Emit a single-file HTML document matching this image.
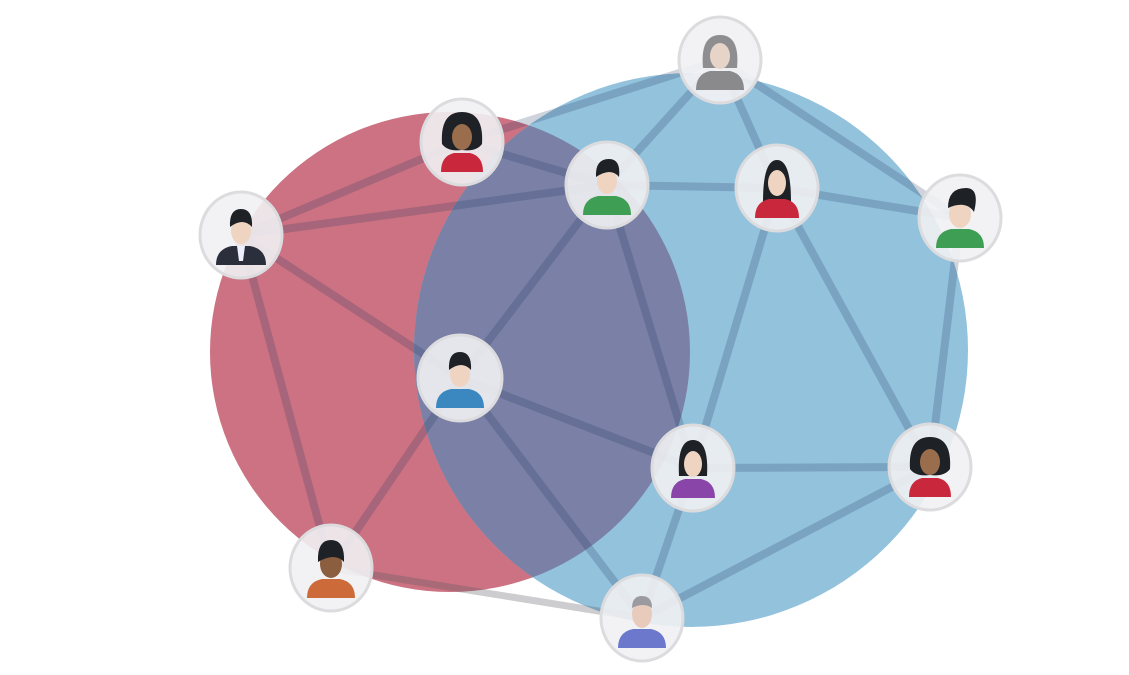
<!DOCTYPE html>
<html><head><meta charset="utf-8"><style>html,body{margin:0;padding:0;background:#fff}svg{display:block}</style></head>
<body>
<svg width="1129" height="675" viewBox="0 0 1129 675" xmlns="http://www.w3.org/2000/svg">
<defs>
<clipPath id="rc"><ellipse cx="450" cy="352" rx="240" ry="240"/></clipPath>
</defs>
<ellipse cx="450" cy="352" rx="240" ry="240" fill="#cc7282"/>
<ellipse cx="691" cy="350" rx="277" ry="277" fill="#93c2dd"/>
<ellipse cx="691" cy="350" rx="277" ry="277" fill="#7a80a6" clip-path="url(#rc)"/>
<g stroke="rgba(30,55,95,0.22)" stroke-width="8" stroke-linecap="round">
<line x1="720" y1="60" x2="462" y2="142"/>
<line x1="720" y1="60" x2="607" y2="185"/>
<line x1="720" y1="60" x2="777" y2="188"/>
<line x1="720" y1="60" x2="960" y2="218"/>
<line x1="462" y1="142" x2="607" y2="185"/>
<line x1="241" y1="235" x2="462" y2="142"/>
<line x1="241" y1="235" x2="607" y2="185"/>
<line x1="241" y1="235" x2="460" y2="378"/>
<line x1="241" y1="235" x2="331" y2="568"/>
<line x1="607" y1="185" x2="777" y2="188"/>
<line x1="777" y1="188" x2="960" y2="218"/>
<line x1="607" y1="185" x2="460" y2="378"/>
<line x1="607" y1="185" x2="693" y2="468"/>
<line x1="777" y1="188" x2="693" y2="468"/>
<line x1="777" y1="188" x2="930" y2="467"/>
<line x1="960" y1="218" x2="930" y2="467"/>
<line x1="460" y1="378" x2="693" y2="468"/>
<line x1="460" y1="378" x2="642" y2="618"/>
<line x1="460" y1="378" x2="331" y2="568"/>
<line x1="693" y1="468" x2="930" y2="467"/>
<line x1="693" y1="468" x2="642" y2="618"/>
<line x1="930" y1="467" x2="642" y2="618"/>
</g>
<line x1="331" y1="568" x2="642" y2="618" stroke="rgba(90,90,100,0.3)" stroke-width="7"/>
<g id="nodes">
<!-- generic node: ellipse + avatar -->
<g transform="translate(720,60)"><ellipse rx="41" ry="43" fill="#f1f1f3" fill-opacity="0.92" stroke="#dcdcdf" stroke-width="3"/><path d="M-24 30 Q-24 14 -10 11 L10 11 Q24 14 24 30 Z" fill="#8a8a8c"/><path d="M-17 8 Q-20 -25 0 -25 Q20 -25 17 8 Z" fill="#8e8e90"/><ellipse cx="0" cy="-4" rx="10" ry="13" fill="#e6d4c8"/></g>
<g transform="translate(462,142)"><ellipse rx="41" ry="43" fill="#f1f1f3" fill-opacity="0.9" stroke="#dcdcdf" stroke-width="3"/><path d="M-21 30 Q-21 14 -8 11 L8 11 Q21 14 21 30 Z" fill="#c9283c"/><path d="M-20 2 Q-22 -30 0 -30 Q22 -30 20 2 Q14 10 0 8 Q-14 10 -20 2Z" fill="#1e2126"/><ellipse cx="0" cy="-5" rx="10" ry="13" fill="#9a6e4c"/></g>
<g transform="translate(607,185)"><ellipse rx="41" ry="43" fill="#f1f1f3" fill-opacity="0.9" stroke="#dcdcdf" stroke-width="3"/><path d="M-24 30 Q-24 14 -9 11 L9 11 Q24 14 24 30 Z" fill="#3e9e53"/><ellipse cx="0" cy="-4" rx="10" ry="13" fill="#efd4c2"/><path d="M-11 -8 Q-12 -26 2 -26 Q14 -26 12 -8 Q4 -18 -11 -8Z" fill="#1e2126"/></g>
<g transform="translate(777,188)"><ellipse rx="41" ry="43" fill="#f1f1f3" fill-opacity="0.9" stroke="#dcdcdf" stroke-width="3"/><path d="M-14 14 Q-14 -28 0 -28 Q14 -28 14 14 Z" fill="#1e2126"/><path d="M-22 30 Q-22 14 -8 11 L8 11 Q22 14 22 30 Z" fill="#c9283c"/><ellipse cx="0" cy="-5" rx="9" ry="13" fill="#efd4c2"/></g>
<g transform="translate(960,218)"><ellipse rx="41" ry="43" fill="#f1f1f3" fill-opacity="0.9" stroke="#dcdcdf" stroke-width="3"/><path d="M-24 30 Q-24 14 -9 11 L9 11 Q24 14 24 30 Z" fill="#3e9e53"/><ellipse cx="0" cy="-4" rx="11" ry="14" fill="#efd4c2"/><path d="M-12 -10 Q-12 -30 6 -30 Q20 -30 14 -6 Q6 -18 -12 -10Z" fill="#1e2126"/></g>
<g transform="translate(241,235)"><ellipse rx="41" ry="43" fill="#f1f1f3" fill-opacity="0.9" stroke="#dcdcdf" stroke-width="3"/><path d="M-25 30 Q-25 14 -9 11 L9 11 Q25 14 25 30 Z" fill="#2b2f3c"/><path d="M-4 11 L4 11 L2 26 L-2 26Z" fill="#eef"/><ellipse cx="0" cy="-4" rx="10" ry="13" fill="#efd4c2"/><path d="M-11 -8 Q-12 -26 0 -26 Q12 -26 11 -8 Q2 -18 -11 -8Z" fill="#1e2126"/></g>
<g transform="translate(460,378)"><ellipse rx="42" ry="43" fill="#f1f1f3" fill-opacity="0.9" stroke="#dcdcdf" stroke-width="3"/><path d="M-24 30 Q-24 14 -9 11 L9 11 Q24 14 24 30 Z" fill="#3a88bf"/><ellipse cx="0" cy="-4" rx="10" ry="13" fill="#efd4c2"/><path d="M-11 -8 Q-12 -26 0 -26 Q12 -26 11 -8 Q2 -18 -11 -8Z" fill="#1e2126"/></g>
<g transform="translate(693,468)"><ellipse rx="41" ry="43" fill="#f1f1f3" fill-opacity="0.9" stroke="#dcdcdf" stroke-width="3"/><path d="M-14 8 Q-16 -28 0 -28 Q16 -28 14 8 Z" fill="#1e2126"/><path d="M-22 30 Q-22 14 -8 11 L8 11 Q22 14 22 30 Z" fill="#8a45a8"/><ellipse cx="0" cy="-4" rx="9" ry="13" fill="#efd4c2"/></g>
<g transform="translate(930,467)"><ellipse rx="41" ry="43" fill="#f1f1f3" fill-opacity="0.9" stroke="#dcdcdf" stroke-width="3"/><path d="M-21 30 Q-21 14 -8 11 L8 11 Q21 14 21 30 Z" fill="#c9283c"/><path d="M-20 2 Q-22 -30 0 -30 Q22 -30 20 2 Q14 10 0 8 Q-14 10 -20 2Z" fill="#1e2126"/><ellipse cx="0" cy="-5" rx="10" ry="13" fill="#9a6e4c"/></g>
<g transform="translate(331,568)"><ellipse rx="41" ry="43" fill="#f1f1f3" fill-opacity="0.9" stroke="#dcdcdf" stroke-width="3"/><path d="M-24 30 Q-24 14 -9 11 L9 11 Q24 14 24 30 Z" fill="#cd6a3a"/><ellipse cx="0" cy="-4" rx="11" ry="14" fill="#8a5e3e"/><path d="M-13 -6 Q-14 -28 0 -28 Q14 -28 13 -6 Q4 -16 -13 -6Z" fill="#1e2126"/></g>
<g transform="translate(642,618)"><ellipse rx="41" ry="43" fill="#f1f1f3" fill-opacity="0.9" stroke="#dcdcdf" stroke-width="3"/><path d="M-24 30 Q-24 14 -9 11 L9 11 Q24 14 24 30 Z" fill="#6b78cc"/><ellipse cx="0" cy="-4" rx="10" ry="14" fill="#e8cbbb"/><path d="M-10 -10 Q-10 -22 0 -22 Q10 -22 10 -10 Q2 -16 -10 -10Z" fill="#9a9aa0"/></g>
</g>
</svg>
</body></html>
